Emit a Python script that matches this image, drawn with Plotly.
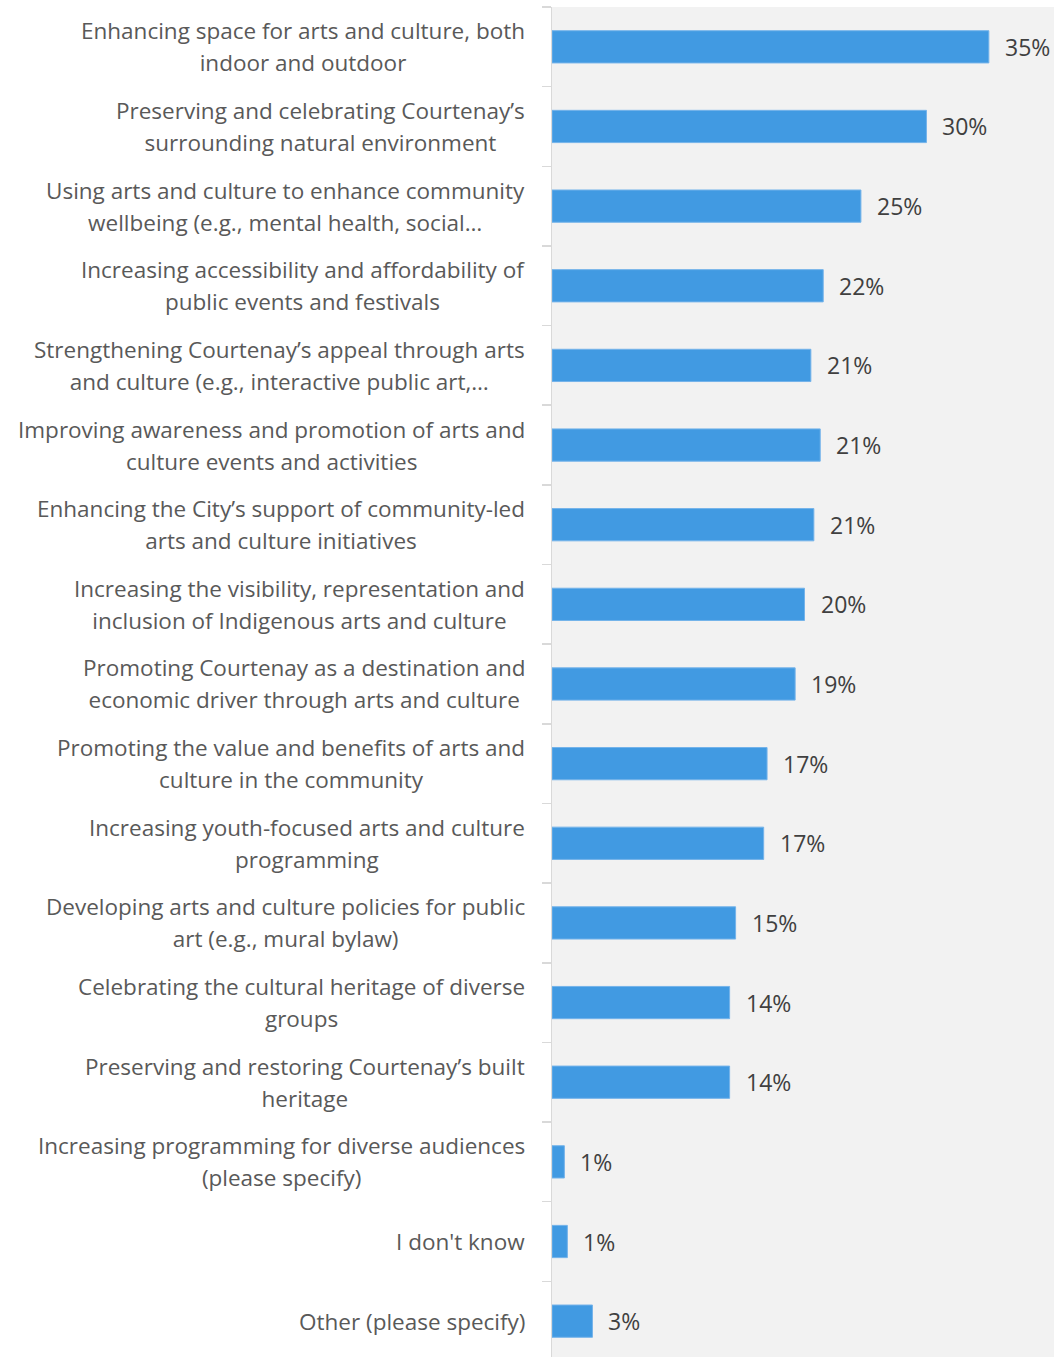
import plotly.graph_objects as go

categories = [
    "Enhancing space for arts and culture, both\nindoor and outdoor",
    "Preserving and celebrating Courtenay’s\nsurrounding natural environment",
    "Using arts and culture to enhance community\nwellbeing (e.g., mental health, social…",
    "Increasing accessibility and affordability of\npublic events and festivals",
    "Strengthening Courtenay’s appeal through arts\nand culture (e.g., interactive public art,…",
    "Improving awareness and promotion of arts and\nculture events and activities",
    "Enhancing the City’s support of community-led\narts and culture initiatives",
    "Increasing the visibility, representation and\ninclusion of Indigenous arts and culture",
    "Promoting Courtenay as a destination and\neconomic driver through arts and culture",
    "Promoting the value and benefits of arts and\nculture in the community",
    "Increasing youth-focused arts and culture\nprogramming",
    "Developing arts and culture policies for public\nart (e.g., mural bylaw)",
    "Celebrating the cultural heritage of diverse\ngroups",
    "Preserving and restoring Courtenay’s built\nheritage",
    "Increasing programming for diverse audiences\n(please specify)",
    "I don't know",
    "Other (please specify)",
]

values = [0.350, 0.300, 0.2475, 0.2173, 0.2074, 0.2149, 0.2098, 0.2023, 0.1948,
          0.1723, 0.1696, 0.1471, 0.1423, 0.1423, 0.0099, 0.0123, 0.0324]

BAR_COLOR = "#419AE2"
LABEL_COLOR = "#595959"
VALUE_COLOR = "#404040"
FONT = "Open Sans, Segoe UI, Noto Sans, sans-serif"

fig = go.Figure()
fig.add_trace(go.Bar(
    x=values,
    y=categories,
    orientation="h",
    width=0.405,
    marker=dict(color=BAR_COLOR, line=dict(color="#74B3EA", width=1)),
    hoverinfo="skip",
))

annotations = []
for cat, v in zip(categories, values):
    lines = cat.split("\n")
    text = "<br>".join(f"<span style='font-size:22.5px'>{ln}</span>" for ln in lines)
    annotations.append(dict(
        x=0, xref="paper", y=cat, yref="y",
        text=text, showarrow=False, xanchor="right", yanchor="middle",
        align="center", xshift=-25,
        font=dict(family=FONT, size=24.6, color=LABEL_COLOR),
    ))
    annotations.append(dict(
        x=v, xref="x", y=cat, yref="y",
        text=f"{v:.0%}", showarrow=False, xanchor="left", yanchor="middle",
        xshift=14,
        font=dict(family=FONT, size=23, color=VALUE_COLOR),
    ))

fig.update_layout(
    width=1054, height=1357,
    margin=dict(l=552, r=0, t=7, b=0),
    paper_bgcolor="white",
    plot_bgcolor="#F2F2F2",
    showlegend=False,
    annotations=annotations,
    font=dict(family=FONT),
    xaxis=dict(range=[0, 0.4022], visible=False, showgrid=False, zeroline=False, fixedrange=True),
    yaxis=dict(
        categoryorder="array", categoryarray=categories,
        range=[16.45, -0.5], autorange=False,
        showticklabels=False, showgrid=False, zeroline=False, fixedrange=True,
        showline=True, linecolor="#D9D9D9", linewidth=1.5,
        ticks="outside", tickson="boundaries", ticklen=9, tickcolor="#D9D9D9", tickwidth=1.5,
    ),
)

fig.write_html(
    "out.html",
    config={"displayModeBar": False, "staticPlot": True},
    post_script="document.body.style.margin='0';document.body.style.padding='0';",
)
